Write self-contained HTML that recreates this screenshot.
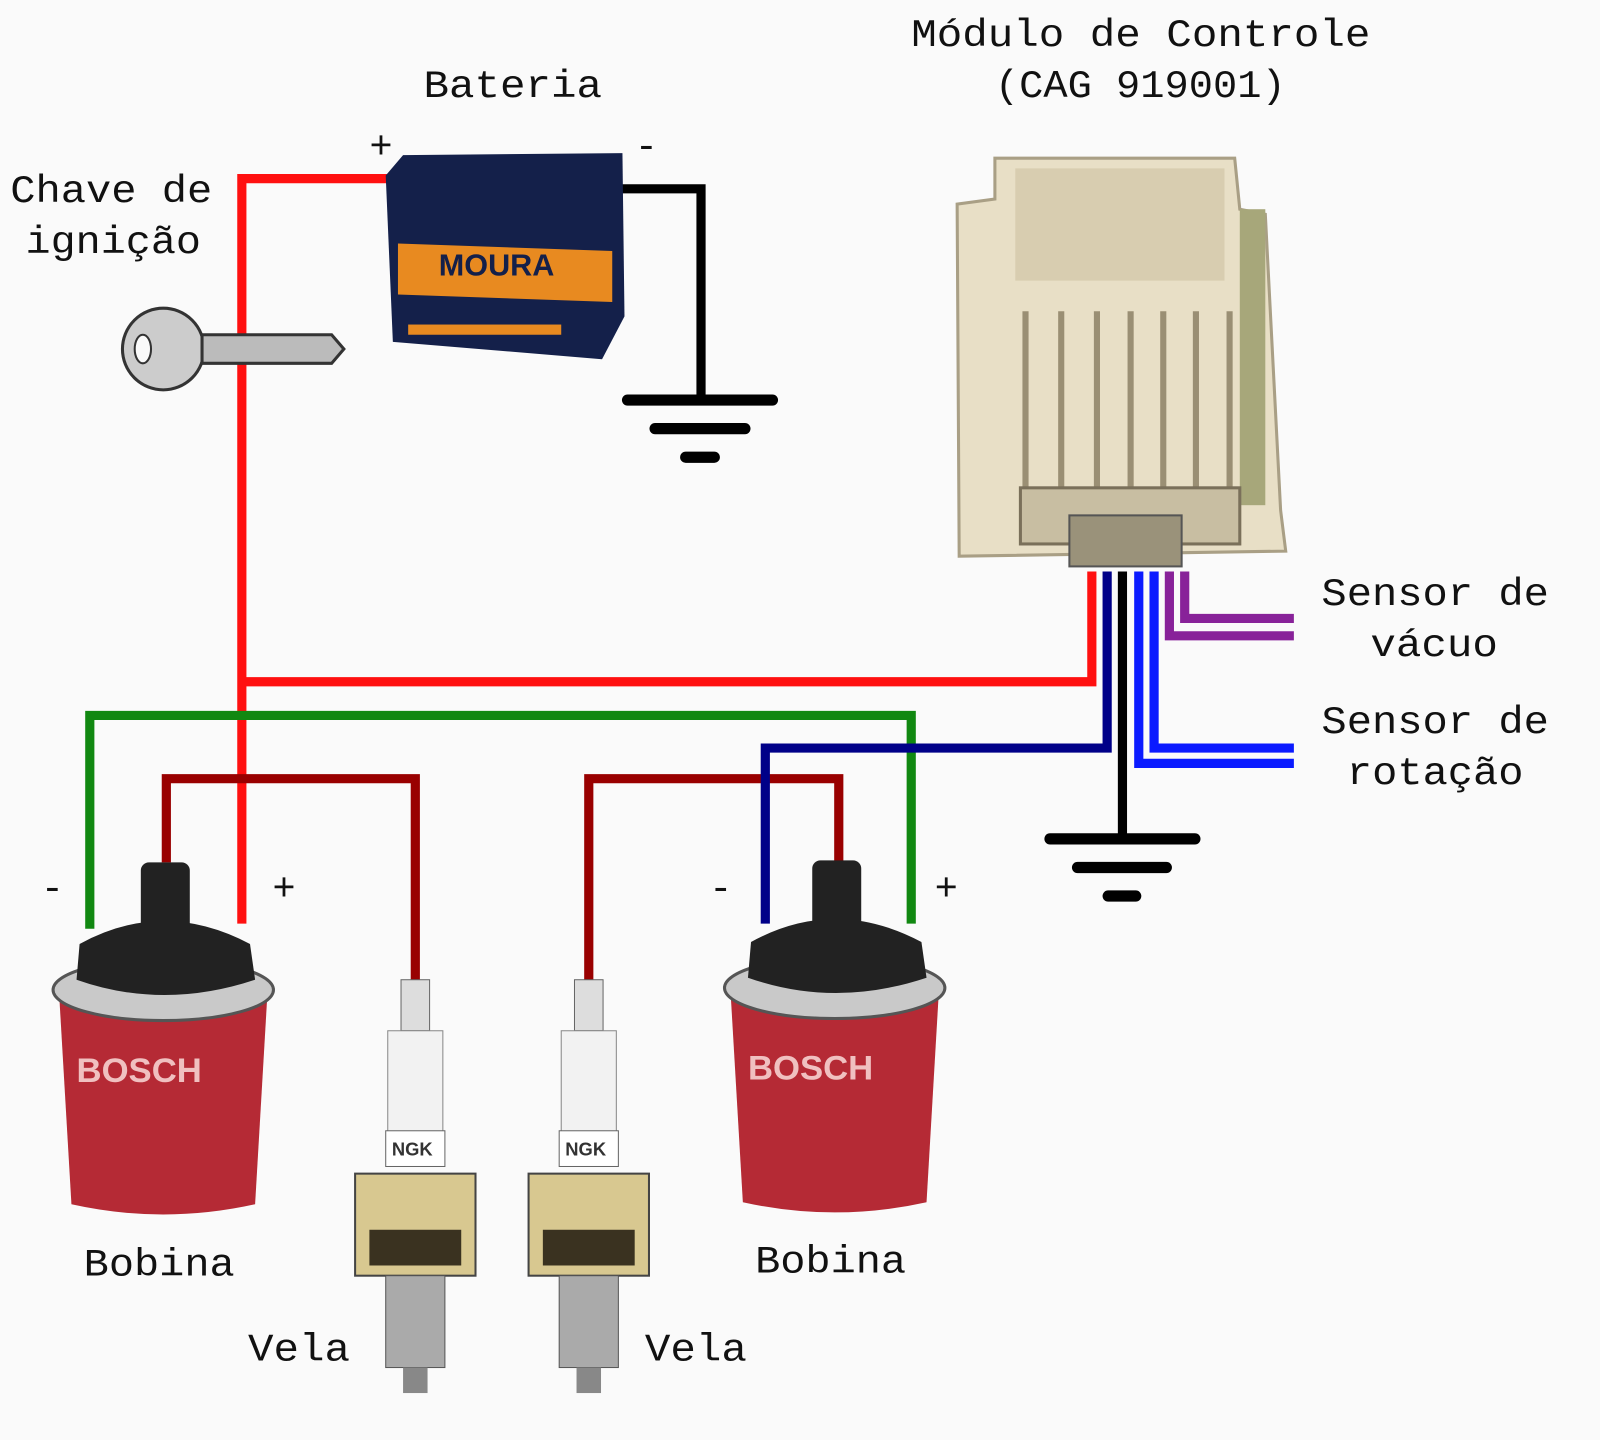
<!DOCTYPE html>
<html><head><meta charset="utf-8"><style>html,body{margin:0;padding:0;background:#fafafa}svg{display:block}</style></head><body>
<svg width="1600" height="1440" viewBox="0 0 1568 1411" preserveAspectRatio="none" xmlns="http://www.w3.org/2000/svg">
<rect width="1568" height="1411" fill="#fafafa"/>
<g font-family="Liberation Mono, monospace" font-size="38" fill="#111">
<text x="415" y="95" textLength="175" lengthAdjust="spacingAndGlyphs">Bateria</text>
<text x="893" y="45" textLength="450" lengthAdjust="spacingAndGlyphs">Módulo de Controle</text>
<text x="975" y="95" textLength="285" lengthAdjust="spacingAndGlyphs">(CAG 919001)</text>
<text x="10" y="198" textLength="198" lengthAdjust="spacingAndGlyphs">Chave de</text>
<text x="25" y="248" textLength="172" lengthAdjust="spacingAndGlyphs">ignição</text>
<text x="362" y="155">+</text><text x="622" y="155">-</text>
<text x="1295" y="593" textLength="223" lengthAdjust="spacingAndGlyphs">Sensor de</text>
<text x="1343" y="643" textLength="125" lengthAdjust="spacingAndGlyphs">vácuo</text>
<text x="1295" y="718" textLength="223" lengthAdjust="spacingAndGlyphs">Sensor de</text>
<text x="1320" y="768" textLength="173" lengthAdjust="spacingAndGlyphs">rotação</text>
<text x="40" y="882">-</text><text x="267" y="882">+</text>
<text x="695" y="882">-</text><text x="916" y="882">+</text>
<text x="82" y="1250" textLength="148" lengthAdjust="spacingAndGlyphs">Bobina</text>
<text x="740" y="1247" textLength="148" lengthAdjust="spacingAndGlyphs">Bobina</text>
<text x="243" y="1333" textLength="100" lengthAdjust="spacingAndGlyphs">Vela</text>
<text x="632" y="1333" textLength="100" lengthAdjust="spacingAndGlyphs">Vela</text>
</g>
<g fill="none" stroke-width="9" stroke-linejoin="miter">
<polyline points="390,175 237,175 237,905" stroke="#ff1010"/>
<polyline points="237,668 1070,668 1070,560" stroke="#ff1010"/>
<polyline points="610,185 687,185 687,392" stroke="#000"/>
<polyline points="88,910 88,701 893,701 893,905" stroke="#118811"/>
<polyline points="163,845 163,763 407,763 407,960" stroke="#990000"/>
<polyline points="577,960 577,763 822,763 822,845" stroke="#990000"/>
<polyline points="750,905 750,733 1085,733 1085,560" stroke="#000088"/>
<polyline points="1100,560 1100,822" stroke="#000"/>
<polyline points="1116,560 1116,748 1268,748" stroke="#0a1aff"/>
<polyline points="1131,560 1131,733 1268,733" stroke="#0a1aff"/>
<polyline points="1146,560 1146,623 1268,623" stroke="#882299"/>
<polyline points="1161,560 1161,606 1268,606" stroke="#882299"/>
</g>
<g stroke="#000" stroke-width="11" stroke-linecap="round">
<line x1="615" y1="392" x2="757" y2="392"/><line x1="642" y1="420" x2="730" y2="420"/><line x1="672" y1="448" x2="700" y2="448"/>
<line x1="1029" y1="822" x2="1171" y2="822"/><line x1="1056" y1="850" x2="1143" y2="850"/><line x1="1086" y1="878" x2="1113" y2="878"/>
</g>
<path d="M378,172 L395,152 L610,150 L612,310 L590,352 L385,335 Z" fill="#14204a"/>
<rect x="390" y="225" width="210" height="50" fill="#e88a20" transform="skewY(2)"/>
<text x="430" y="270" font-family="Liberation Sans, sans-serif" font-size="30" font-weight="bold" fill="#14204a">MOURA</text>
<rect x="400" y="318" width="150" height="10" fill="#e88a20"/>
<circle cx="160" cy="342" r="40" fill="#ccc" stroke="#333" stroke-width="3"/>
<ellipse cx="140" cy="342" rx="8" ry="14" fill="#fafafa" stroke="#333" stroke-width="2"/>
<path d="M198,328 L325,328 L337,342 L325,356 L198,356 Z" fill="#bbb" stroke="#333" stroke-width="3"/>
<path d="M975,155 L1210,155 L1215,205 L1240,210 L1255,500 L1260,540 L940,545 L938,200 L975,195 Z" fill="#e8dfc6" stroke="#a99f85" stroke-width="3"/>
<rect x="995" y="165" width="205" height="110" fill="#d8cdb0"/>
<g stroke="#9a8f74" stroke-width="6"><line x1="1005" y1="305" x2="1005" y2="480"/><line x1="1040" y1="305" x2="1040" y2="480"/><line x1="1075" y1="305" x2="1075" y2="480"/><line x1="1108" y1="305" x2="1108" y2="480"/><line x1="1140" y1="305" x2="1140" y2="480"/><line x1="1172" y1="305" x2="1172" y2="480"/><line x1="1205" y1="305" x2="1205" y2="480"/></g>
<rect x="1215" y="205" width="25" height="290" fill="#a7a77a"/>
<rect x="1000" y="478" width="215" height="55" fill="#c8bea2" stroke="#7a705a" stroke-width="3"/>
<rect x="1048" y="505" width="110" height="50" fill="#9a927a" stroke="#555" stroke-width="2"/>
<g id="coil">
<path d="M58,975 Q160,930 262,975 L250,1180 Q160,1200 70,1180 Z" fill="#b52a35"/>
<ellipse cx="160" cy="970" rx="108" ry="30" fill="#c9c9c9" stroke="#555" stroke-width="3"/>
<path d="M78,925 Q160,880 245,925 L250,960 Q160,990 75,960 Z" fill="#222"/>
<rect x="138" y="845" width="48" height="80" rx="8" fill="#222"/>
<text x="75" y="1060" font-family="Liberation Sans, sans-serif" font-size="34" font-weight="bold" fill="#f0c0c0">BOSCH</text>
</g>
<use href="#coil" transform="translate(658,-2)"/>
<g id="plug">
<rect x="393" y="960" width="28" height="50" fill="#ddd" stroke="#666"/>
<rect x="380" y="1010" width="54" height="100" fill="#f2f2f2" stroke="#888"/>
<rect x="378" y="1108" width="58" height="35" fill="#fff" stroke="#666"/>
<text x="384" y="1132" font-family="Liberation Sans, sans-serif" font-size="18" font-weight="bold" fill="#333">NGK</text>
<rect x="348" y="1150" width="118" height="100" fill="#d8c890" stroke="#444" stroke-width="2"/>
<rect x="362" y="1205" width="90" height="35" fill="#3a3220"/>
<rect x="378" y="1250" width="58" height="90" fill="#aaa" stroke="#555"/>
<rect x="395" y="1340" width="24" height="25" fill="#888"/>
</g>
<use href="#plug" transform="translate(170,0)"/>
</svg>
</body></html>
